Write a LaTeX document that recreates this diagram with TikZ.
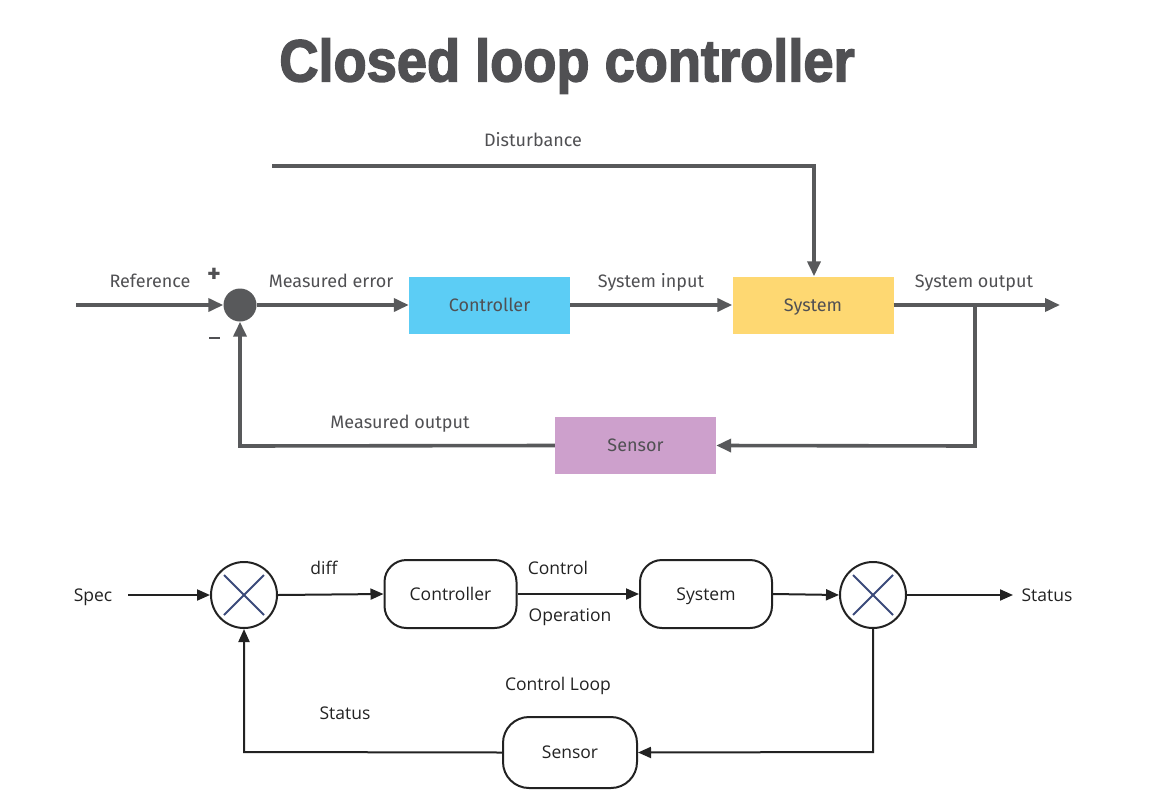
\documentclass[tikz,border=0pt]{standalone}
\usepackage{fontspec}
\setmainfont{Open Sans}
\newfontfamily\titlefont[BoldFeatures={FakeBold=2.6}]{Liberation Sans}
\newfontfamily\topfont{Fira Sans}
\usetikzlibrary{arrows.meta}
\definecolor{dk}{HTML}{58595B}
\definecolor{tx}{HTML}{505053}
\definecolor{cblue}{HTML}{5CCDF5}
\definecolor{cyel}{HTML}{FED872}
\definecolor{cpur}{HTML}{CDA0CC}
\definecolor{navy}{HTML}{3B4A7A}
\definecolor{bk}{HTML}{222222}
\tikzset{
  topline/.style={draw=dk, line width=3.6pt},
  toparrow/.style={topline, -{Triangle[length=15pt,width=13pt]}},
  topbox/.style={draw=none, minimum width=161pt, minimum height=57pt, inner sep=0pt, font=\topfont\fontsize{18}{20}\selectfont, text=tx, text height=12.5pt, text depth=0pt},
  toplbl/.style={font=\topfont\fontsize{18}{20}\selectfont, text=tx, inner sep=0pt, text height=12.5pt, text depth=0pt},
  botline/.style={draw=bk, line width=2pt},
  botarrow/.style={botline, -{Triangle[length=13pt,width=11pt]}},
  botbox/.style={draw=bk, line width=2pt, rounded corners=22pt, minimum width=132pt, minimum height=68pt, inner sep=0pt, font=\fontsize{17.5}{19}\selectfont, text=bk, text height=12.5pt, text depth=0pt},
  botlbl/.style={font=\fontsize{17.5}{19}\selectfont, text=bk, inner sep=0pt, text height=12.5pt, text depth=0pt},
  mult/.style={circle, draw=bk, line width=2pt, minimum size=66pt, inner sep=0pt}
}
\begin{document}
\begin{tikzpicture}[x=1pt,y=-1pt]
\useasboundingbox (0,0) rectangle (1153,808);
% title
\node[text=tx, inner sep=0pt] (title) at (567,66) {\resizebox{575pt}{43pt}{\titlefont\bfseries Closed loop controller}};

% ---------- top diagram ----------
\node[circle, fill=dk, minimum size=33pt, inner sep=0pt] (sum) at (240,305) {};
\node[topbox, fill=cblue] (ctrl) at (489.5,305) {Controller};
\node[topbox, fill=cyel] (sys) at (813,305) {System};
\node[topbox, fill=cpur] (sens) at (635.5,445.5) {Sensor};
\coordinate (refin) at (76,305);
\coordinate (out) at (1060,305);
\coordinate (dstart) at (272,166);
\coordinate (dcorner) at (814,166);
\coordinate (branch) at (975,305);
\coordinate (bcorner) at (975,446);
\coordinate (lcorner) at (240,446);

\draw[toparrow] (refin) -- (sum.west);
\draw[toparrow] (sum.east) -- (ctrl.west);
\draw[toparrow] (ctrl.east) -- (sys.west);
\draw[toparrow] (sys.east) -- (out);
\draw[toparrow] (dstart) -- (dcorner) -- (sys.north -| dcorner);
\draw[toparrow] (branch) -- (bcorner) -- (sens.east);
\draw[toparrow] (sens.west) -- (lcorner) -- (sum.south);

\node[toplbl] (lref) at (150,281) {Reference};
\node[toplbl, font=\topfont\bfseries\fontsize{26}{28}\selectfont, text depth=0pt, text height=0pt] (lplus) at (214,282) {+};
\node[fill=tx, minimum width=11pt, minimum height=2.6pt, inner sep=0pt] (lminus) at (214,338) {};
\node[toplbl] (lerr) at (331,281) {Measured error};
\node[toplbl] (lsin) at (651,281) {System input};
\node[toplbl] (lsout) at (974,281) {System output};
\node[toplbl] (ldist) at (533,140) {Disturbance};
\node[toplbl] (lmout) at (400,422) {Measured output};

% ---------- bottom diagram ----------
\node[mult] (m1) at (244,595) {};
\node[mult] (m2) at (873,595) {};
\foreach \m in {m1,m2}{
  \draw[navy, line width=2pt] (\m.center) ++(-20,-20) -- ++(40,40);
  \draw[navy, line width=2pt] (\m.center) ++(20,-20) -- ++(-40,40);
}
\node[botbox] (bctrl) at (450.5,594) {Controller};
\node[botbox] (bsys) at (706,594) {System};
\node[botbox, minimum width=134pt, minimum height=71pt, rounded corners=26pt] (bsens) at (570,752.5) {Sensor};
\coordinate (specin) at (128,595);
\coordinate (stout) at (1013,595);
\coordinate (b2) at (873,752);
\coordinate (b1) at (244,752);

\draw[botarrow] (specin) -- (m1.west);
\draw[botarrow] (m1.east) -- (bctrl.west);
\draw[botarrow] (bctrl.east) -- (bsys.west);
\draw[botarrow] (bsys.east) -- (m2.west);
\draw[botarrow] (m2.east) -- (stout);
\draw[botarrow] (m2.south) -- (b2) -- (bsens.east);
\draw[botarrow] (bsens.west) -- (b1) -- (m1.south);

\node[botlbl] (lspec) at (93,595) {Spec};
\node[botlbl] (ldiff) at (324,568) {diff};
\node[botlbl] (lcontrol) at (558,568) {Control};
\node[botlbl] (loper) at (570,615) {Operation};
\node[botlbl] (lstat) at (1047,595) {Status};
\node[botlbl] (lloop) at (558,684) {Control Loop};
\node[botlbl] (lstat2) at (345,713) {Status};
\end{tikzpicture}
\end{document}
